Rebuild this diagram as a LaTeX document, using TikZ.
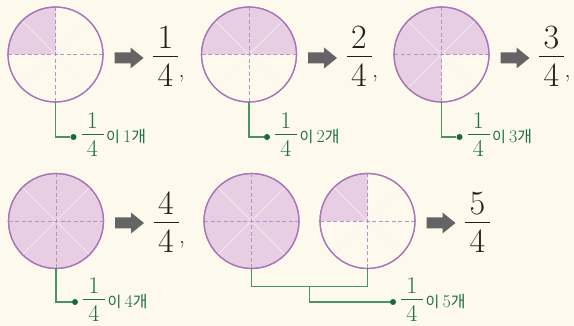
\documentclass[tikz,border=0pt]{standalone}
\usepackage{fontspec}
\newfontfamily\kr{Noto Sans CJK KR}
\usetikzlibrary{calc}
\definecolor{bg}{RGB}{253,249,236}
\definecolor{pinkfill}{RGB}{232,206,226}
\definecolor{circ}{RGB}{168,118,184}
\definecolor{dashc}{RGB}{184,146,196}
\definecolor{diag}{RGB}{249,243,247}
\definecolor{gline}{RGB}{72,148,98}
\definecolor{gdot}{RGB}{25,105,60}
\definecolor{gtext}{RGB}{30,112,68}
\definecolor{arrowc}{RGB}{100,100,100}
\definecolor{fractxt}{RGB}{35,31,32}
\tikzset{
  disk/.style={circle,draw=circ,line width=1.2pt,minimum size=95pt,inner sep=0pt,outer sep=0pt},
  dashline/.style={draw=dashc,line width=0.9pt,dash pattern=on 4pt off 2.5pt},
  diagline/.style={draw=diag,line width=0.45pt},
  blockarrow/.style={fill=arrowc},
  bigdigit/.style={inner sep=0pt,text=fractxt,font=\fontsize{34}{40}\selectfont},
  bigcomma/.style={inner sep=0pt,text=fractxt,font=\fontsize{24}{28}\selectfont},
  bigbar/.style={draw=fractxt,line width=1pt},
  smalldigit/.style={inner sep=0pt,text=gtext,font=\fontsize{24}{28}\selectfont},
  smallbar/.style={draw=gtext,line width=0.9pt},
  labeltext/.style={inner sep=0pt,text=gtext,font=\fontsize{18}{20}\selectfont},
  gdotstyle/.style={circle,fill=gdot,inner sep=0pt,minimum size=6pt},
  gconn/.style={draw=gline,line width=1.1pt}
}
% circle with filled quarters: name, cx, cy, list of start angles (y axis points down)
\newcommand\quartercircle[4]{%
  \foreach \a in {#4} {\fill[pinkfill] (#2,#3) -- ++(\a:47.5) arc[start angle=\a, delta angle=90, radius=47.5] -- cycle;}
  \draw[diagline] (#2-33.6,#3-33.6) -- (#2+33.6,#3+33.6);
  \draw[diagline] (#2-33.6,#3+33.6) -- (#2+33.6,#3-33.6);
  \node[disk] (#1) at (#2,#3) {};
  \draw[dashline] (#1.west) -- (#1.east);
  \draw[dashline] (#1.north) -- (#1.south);
  \node[disk] at (#1.center) {};
}
% block arrow: left x, centre y
\newcommand\blockarrow[2]{%
  \fill[blockarrow] (#1,#2-5.5) -- (#1+16,#2-5.5) -- (#1+16,#2-10.5) -- (#1+29,#2)
    -- (#1+16,#2+10.5) -- (#1+16,#2+5.5) -- (#1,#2+5.5) -- cycle;
}
% big fraction: name, centre x, bar y, numerator
\newcommand\bigfrac[4]{%
  \node[bigdigit,anchor=base] (#1n) at (#2,#3-8) {#4};
  \node[bigdigit,anchor=base] (#1d) at (#2,#3+30) {4};
  \draw[bigbar] (#2-12.5,#3) -- (#2+12.5,#3);
}
% comma after a big fraction: name, x, bar y
\newcommand\bigcomma[3]{%
  \node[bigcomma,anchor=base west] (#1) at (#2+13,#3+21) {,};
}
% label: name, dot x, dot y, count
\newcommand\countlabel[4]{%
  \node[gdotstyle] (#1dot) at (#2,#3) {};
  \node[smalldigit,anchor=base] (#1n) at (#2+19,#3-8.5) {1};
  \node[smalldigit,anchor=base] (#1d) at (#2+19,#3+20) {4};
  \draw[smallbar] (#2+8,#3-2.5) -- (#2+30,#3-2.5);
  \node[labeltext,anchor=base west] (#1t) at (#2+32.5,#3+5.6)
    {{\kr\fontsize{15}{18}\selectfont 이}\,#4{\kr\fontsize{16}{18}\selectfont 개}};
}
\begin{document}
\begin{tikzpicture}[x=1pt,y=-1pt]
\fill[bg] (0,0) rectangle (574,326);
\useasboundingbox (0,0) rectangle (574,326);

% row 1
\quartercircle{c1}{55.5}{54.5}{180}
\quartercircle{c2}{249}{54.5}{180,270}
\quartercircle{c3}{441.5}{54.5}{90,180,270}
\blockarrow{114.5}{58}
\blockarrow{308}{58}
\blockarrow{500.5}{58}
\bigfrac{f1}{165.5}{57}{1}
\bigfrac{f2}{359}{57}{2}
\bigfrac{f3}{551.5}{57}{3}
\bigcomma{k1}{165.5}{57}
\bigcomma{k2}{359}{57}
\bigcomma{k3}{551.5}{57}

\countlabel{l1}{73.5}{137}{1}
\countlabel{l2}{267}{137}{2}
\countlabel{l3}{459.5}{137}{3}
\draw[gconn] (c1.south) |- (l1dot);
\draw[gconn] (c2.south) |- (l2dot);
\draw[gconn] (c3.south) |- (l3dot);

% row 2
\quartercircle{c4}{56}{221}{0,90,180,270}
\quartercircle{c5}{251.5}{221}{0,90,180,270}
\quartercircle{c6}{367.5}{221}{180}
\blockarrow{115}{223}
\blockarrow{426.5}{223}
\bigfrac{f4}{166}{223}{4}
\bigfrac{f5}{477.5}{223}{5}
\bigcomma{k4}{166}{223}

\countlabel{l4}{75}{302}{4}
\countlabel{l5}{393}{302}{5}
\draw[gconn] (c4.south) |- (l4dot);
\coordinate (h5) at (251.5,286.7);
\coordinate (h6) at (367.5,286.7);
\coordinate (m56) at (309.5,286.7);
\draw[gconn] (c5.south) -- (h5) -- (h6) -- (c6.south);
\draw[gconn] (m56) |- (l5dot);
\end{tikzpicture}
\end{document}
